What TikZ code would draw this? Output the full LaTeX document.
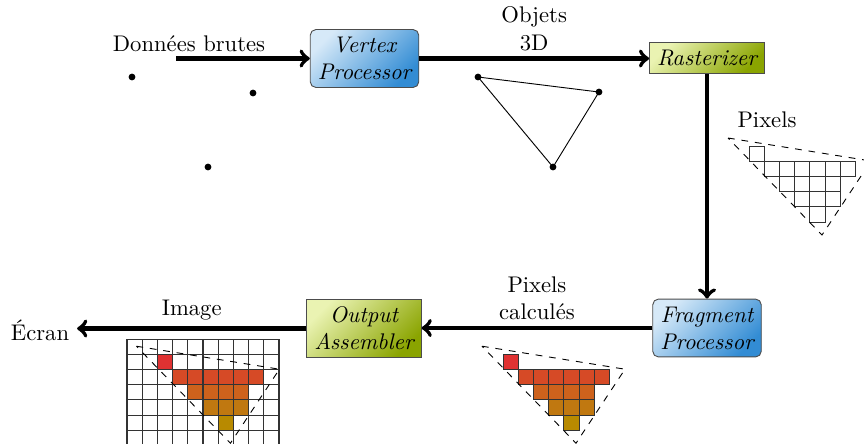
\documentclass[tikz,border=0pt]{standalone}
\usepackage{fontspec}
\definecolor{blueL}{RGB}{214,233,248}
\definecolor{blueD}{RGB}{50,140,212}
\definecolor{greenL}{RGB}{234,243,178}
\definecolor{greenD}{RGB}{138,164,0}
\definecolor{pr1}{RGB}{224,50,50}
\definecolor{pr2}{RGB}{214,74,38}
\definecolor{pr3}{RGB}{206,98,28}
\definecolor{pr4}{RGB}{192,120,16}
\definecolor{pr5}{RGB}{184,138,0}
\tikzset{
  box/.style={draw=black!70, align=center, font=\itshape, inner sep=0.3333em},
  bluebox/.style={box, rounded corners=2.5pt, top color=blueL, bottom color=blueD, shading angle=45},
  greenbox/.style={box, top color=greenL, bottom color=greenD, shading angle=45},
  flow/.style={->, line width=1.8pt},
  dotmark/.style={fill=black},
  cell/.style={draw=black!80, line width=0.45pt},
  tri/.style={dashed, line width=0.4pt}
}
\begin{document}
\begin{tikzpicture}[x=0.442pt, y=-0.442pt]
\useasboundingbox (0,0) rectangle (864,443);

% boxes
\node[bluebox] (vp) at (364.5,58.5) {Vertex\\Processor};
\node[greenbox] (ra) at (707,58) {Rasterizer};
\node[bluebox] (fp) at (707,328) {Fragment\\Processor};
\node[greenbox] (oa) at (364,328.5) {Output\\Assembler};
\node (ecran) at (40,330) {Écran};
\coordinate (src) at (176,58.5);

% connectors
\draw[flow] (src) -- (vp.west);
\draw[flow] (vp.east) -- (ra.west |- vp.east) coordinate[pos=0.5] (m1);
\draw[flow] (ra.south) -- (fp.north);
\draw[flow] (fp.west) -- (oa.east |- fp.west) coordinate[pos=0.5] (m2);
\draw[flow] (oa.west) -- (ecran.east |- oa.west) coordinate[pos=0.5] (m3);

% labels
\node (lb1) at (189,44) {Données brutes};
\node[above, align=center] (lb2) at (m1) {Objets\\3D};
\node[above, align=center] (lb3) at (m2) {Pixels\\calculés};
\node[above] (lb4) at (m3) {Image};
\node (lb5) at (767,120) {Pixels};

% raw points
\fill[dotmark] (132,77) circle (1.5pt);
\fill[dotmark] (253,93) circle (1.5pt);
\fill[dotmark] (208,167) circle (1.5pt);

% 3D object triangle
\coordinate (t1) at (478,77);
\coordinate (t2) at (599,92);
\coordinate (t3) at (553,167);
\draw (t1) -- (t2) -- (t3) -- cycle;
\fill[dotmark] (t1) circle (1.5pt);
\fill[dotmark] (t2) circle (1.5pt);
\fill[dotmark] (t3) circle (1.5pt);

% rasterized pixels
\begin{scope}[shift={(749,146)}]
  \foreach \c/\r in {0/0,1/1,2/1,3/1,4/1,5/1,6/1,2/2,3/2,4/2,5/2,3/3,4/3,5/3,4/4}
    \draw[cell] (\c*15.2,\r*15.2) rectangle ++(15.2,15.2);
  \draw[tri] (-21,-8) -- (122,15) -- (73,89) -- cycle;
\end{scope}

% computed pixels
\begin{scope}[shift={(503,354.2)}]
  \foreach \c/\r/\k in {0/0/pr1,1/1/pr2,2/1/pr2,3/1/pr2,4/1/pr2,5/1/pr2,6/1/pr2,2/2/pr3,3/2/pr3,4/2/pr3,5/2/pr3,3/3/pr4,4/3/pr4,5/3/pr4,4/4/pr5}
    \filldraw[cell, fill=\k] (\c*15.2,\r*15.2) rectangle ++(15.2,15.2);
  \draw[tri] (-21,-8) -- (122,15) -- (73,89) -- cycle;
\end{scope}

% final image
\begin{scope}[shift={(127,339)}]
  \foreach \i in {0,...,10}
    \draw[cell] (\i*15.2,0) -- (\i*15.2,8*15.2);
  \foreach \j in {0,...,8}
    \draw[cell] (0,\j*15.2) -- (10*15.2,\j*15.2);
\end{scope}
\begin{scope}[shift={(157.4,354.2)}]
  \foreach \c/\r/\k in {0/0/pr1,1/1/pr2,2/1/pr2,3/1/pr2,4/1/pr2,5/1/pr2,6/1/pr2,2/2/pr3,3/2/pr3,4/2/pr3,5/2/pr3,3/3/pr4,4/3/pr4,5/3/pr4,4/4/pr5}
    \filldraw[cell, fill=\k] (\c*15.2,\r*15.2) rectangle ++(15.2,15.2);
  \draw[tri] (-21,-8) -- (122,15) -- (73,89) -- cycle;
\end{scope}
\end{tikzpicture}
\end{document}
